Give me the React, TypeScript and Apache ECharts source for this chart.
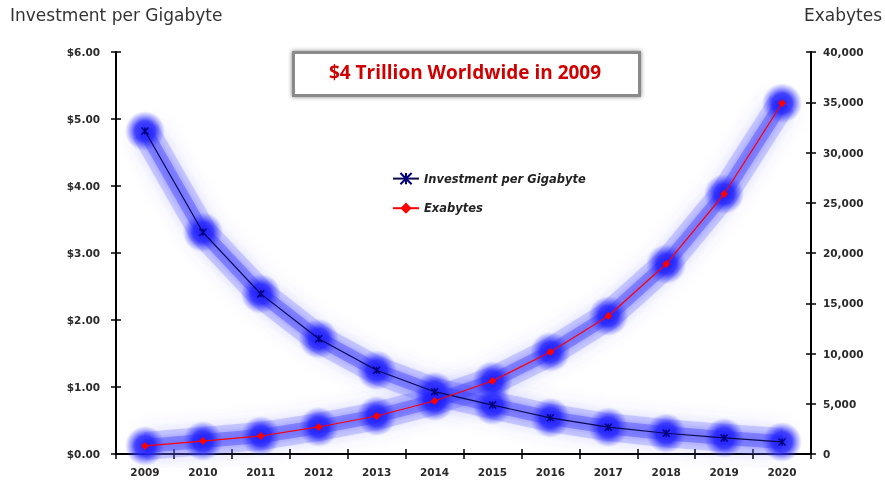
import React, { useEffect, useRef } from "react";
import * as echarts from "echarts";

const years = ["2009", "2010", "2011", "2012", "2013", "2014", "2015", "2016", "2017", "2018", "2019", "2020"];
const investment = [4.82, 3.31, 2.39, 1.72, 1.25, 0.93, 0.73, 0.54, 0.4, 0.31, 0.24, 0.18];
const exabytes = [800, 1290, 1790, 2690, 3780, 5270, 7260, 10150, 13730, 18900, 25870, 34900];
const leftTitle = "Investment per Gigabyte";
const rightTitle = "Exabytes";
const boxTitle = "$4 Trillion Worldwide in 2009";

const labelFont = { fontFamily: "DejaVu Sans", fontSize: 10.5, fontWeight: "bold" as const, color: "#2a2a2a" };
const xMark = "path://M0,0L10,10M10,0L0,10M5,0L5,10";

export default function App() {
  const ref = useRef<HTMLDivElement>(null);
  useEffect(() => {
    const chart = echarts.init(ref.current!, null, { renderer: "svg" });
    const axisLine = { show: true, lineStyle: { color: "#000", width: 2 } };
    const tickOut = { show: true, length: 5, inside: false, lineStyle: { color: "#000", width: 1.5 } };
    const tickIn = { show: true, length: 5, inside: true, lineStyle: { color: "#000", width: 1.5 } };
    const glowOuter = { width: 28, color: "rgba(100,100,255,0.25)", shadowBlur: 18, shadowColor: "rgba(80,80,255,0.8)" };
    const glowInner = { width: 14, color: "rgba(60,60,255,0.4)", shadowBlur: 10, shadowColor: "rgba(60,60,255,0.7)" };
    const blob = {
      color: {
        type: "radial",
        x: 0.5,
        y: 0.5,
        r: 0.5,
        colorStops: [
          { offset: 0, color: "rgba(25,25,255,0.95)" },
          { offset: 0.5, color: "rgba(35,35,255,0.85)" },
          { offset: 1, color: "rgba(70,70,255,0)" },
        ],
      },
    };
    const glowSeries = (data: number[], axis: number, line: any, withSym: boolean) => ({
      type: "line",
      yAxisIndex: axis,
      data,
      symbol: withSym ? "circle" : "none",
      symbolSize: 40,
      lineStyle: line,
      itemStyle: blob,
      z: 1,
      silent: true,
    });
    chart.setOption({
      animation: false,
      grid: { left: 116, right: 74, top: 52, bottom: 31, containLabel: false },
      legend: {
        data: ["Investment per Gigabyte", "Exabytes"],
        orient: "vertical",
        left: 392,
        top: 172,
        padding: 0,
        itemWidth: 26,
        itemHeight: 14,
        itemGap: 17,
        textStyle: { fontFamily: "DejaVu Sans", fontSize: 11.5, fontWeight: "bold", fontStyle: "italic", color: "#222" },
      },
      xAxis: [
        {
          type: "category",
          data: years,
          boundaryGap: true,
          axisLine,
          axisTick: tickOut,
          axisLabel: { ...labelFont, margin: 12 },
        },
        {
          type: "category",
          data: years,
          position: "bottom",
          boundaryGap: true,
          axisLine: { show: false },
          axisTick: tickIn,
          axisLabel: { show: false },
        },
      ],
      yAxis: [
        {
          type: "value",
          position: "left",
          min: 0,
          max: 6,
          interval: 1,
          axisLine,
          axisTick: tickOut,
          splitLine: { show: false },
          axisLabel: { ...labelFont, margin: 16, formatter: (v: number) => "$" + v.toFixed(2) },
        },
        {
          type: "value",
          position: "right",
          min: 0,
          max: 40000,
          interval: 5000,
          axisLine,
          axisTick: tickOut,
          splitLine: { show: false },
          axisLabel: { ...labelFont, margin: 12, formatter: (v: number) => v.toLocaleString("en-US") },
        },
        {
          type: "value",
          position: "left",
          min: 0,
          max: 6,
          interval: 1,
          axisLine: { show: false },
          axisTick: tickIn,
          splitLine: { show: false },
          axisLabel: { show: false },
        },
        {
          type: "value",
          position: "right",
          min: 0,
          max: 40000,
          interval: 5000,
          axisLine: { show: false },
          axisTick: tickIn,
          splitLine: { show: false },
          axisLabel: { show: false },
        },
      ],
      series: [
        { name: "glowA1", ...glowSeries(investment, 0, glowOuter, false) },
        { name: "glowA2", ...glowSeries(exabytes, 1, glowOuter, false) },
        { name: "glowB1", ...glowSeries(investment, 0, glowInner, true) },
        { name: "glowB2", ...glowSeries(exabytes, 1, glowInner, true) },
        {
          name: "Investment per Gigabyte",
          type: "line",
          yAxisIndex: 0,
          data: investment,
          symbol: xMark,
          symbolSize: 7,
          lineStyle: { color: "#0a0a50", width: 1.2 },
          itemStyle: { color: "#000080", borderColor: "#000080", borderWidth: 1.5 },
          z: 5,
        },
        {
          name: "Exabytes",
          type: "line",
          yAxisIndex: 1,
          data: exabytes,
          symbol: "diamond",
          symbolSize: 8,
          lineStyle: { color: "#ff0000", width: 1.2 },
          itemStyle: { color: "#ff0000" },
          z: 5,
        },
      ],
      graphic: [
        {
          type: "text",
          left: 10,
          top: 6,
          style: { text: leftTitle, fontFamily: "DejaVu Sans", fontSize: 17, fill: "#333" },
        },
        {
          type: "text",
          left: 804,
          top: 6,
          style: { text: rightTitle, fontFamily: "DejaVu Sans", fontSize: 17, fill: "#333" },
        },
        {
          type: "rect",
          left: 292,
          top: 51,
          shape: { width: 346, height: 43 },
          style: { fill: "#fff", stroke: "#8a8a8a", lineWidth: 3, shadowBlur: 4, shadowColor: "rgba(0,0,0,0.5)" },
          z: 10,
        },
        {
          type: "text",
          x: 465,
          y: 72,
          style: {
            text: boxTitle,
            fontFamily: "Open Sans",
            fontSize: 19,
            fontWeight: "bold",
            fill: "#d00000",
            align: "center",
            verticalAlign: "middle",
          },
          z: 11,
        },
      ],
    });
    return () => chart.dispose();
  }, []);
  return <div ref={ref} style={{ position: "fixed", left: 0, top: 0, width: 885, height: 485 }} />;
}
